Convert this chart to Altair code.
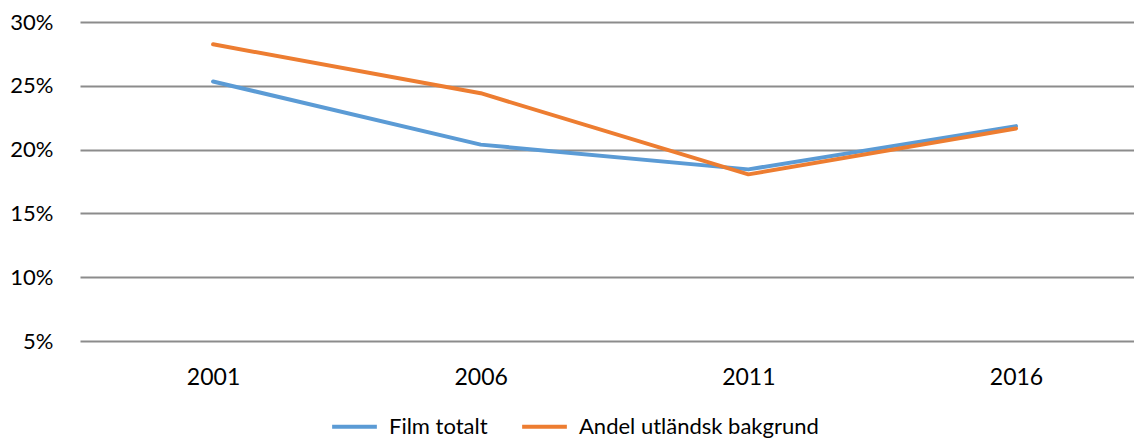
import altair as alt
import pandas as pd

years = ["2001", "2006", "2011", "2016"]
film_totalt = [0.2534, 0.2039, 0.1845, 0.2184]
andel_utl = [0.2825, 0.2442, 0.1806, 0.2166]
series_names = ["Film totalt", "Andel utländsk bakgrund"]
colors = ["#5B9BD5", "#ED7D31"]
y_ticks = [0.05, 0.10, 0.15, 0.20, 0.25, 0.30]

rows = []
for i, y in enumerate(years):
    rows.append({"year": y, "series": series_names[0], "value": film_totalt[i], "order": 0})
for i, y in enumerate(years):
    rows.append({"year": y, "series": series_names[1], "value": andel_utl[i], "order": 1})
df = pd.DataFrame(rows)

FONT = "Lato"
FS = 23

chart = alt.Chart(df).mark_line(strokeWidth=4, strokeCap="round", strokeJoin="round").encode(
    x=alt.X("year:N", sort=years, title=None,
            scale=alt.Scale(type="point", padding=0.469, align=0.53),
            axis=alt.Axis(labelAngle=0, ticks=False, domain=False, grid=False,
                          labelFontSize=FS, labelFont=FONT, labelColor="#000000",
                          labelPadding=25)),
    y=alt.Y("value:Q", title=None,
            scale=alt.Scale(domain=[0.05, 0.30], nice=False, zero=False),
            axis=alt.Axis(values=y_ticks, format=".0%", ticks=False, domain=False,
                          grid=True, gridColor="#8C8C8C", gridWidth=2,
                          labelFontSize=22, labelFont=FONT, labelColor="#000000",
                          labelPadding=27)),
    color=alt.Color("series:N", sort=series_names,
                    scale=alt.Scale(domain=series_names, range=colors),
                    legend=alt.Legend(title=None, orient="none", direction="horizontal",
                                      legendX=250, legendY=380,
                                      symbolType="stroke", symbolSize=2000,
                                      symbolStrokeWidth=4, labelFontSize=22,
                                      labelFont=FONT, labelColor="#000000",
                                      labelLimit=500,
                                      labelOffset=10, columnPadding=26)),
    order=alt.Order("order:Q"),
    detail="series:N",
).properties(
    width=1054, height=319,
    background="white",
    autosize=alt.AutoSizeParams(type="none"),
    padding={"left": 72, "top": 14, "right": 0, "bottom": 97},
).configure_view(strokeWidth=0, stroke="transparent")

chart.save("out.html", embed_options={"renderer": "svg", "actions": False})
